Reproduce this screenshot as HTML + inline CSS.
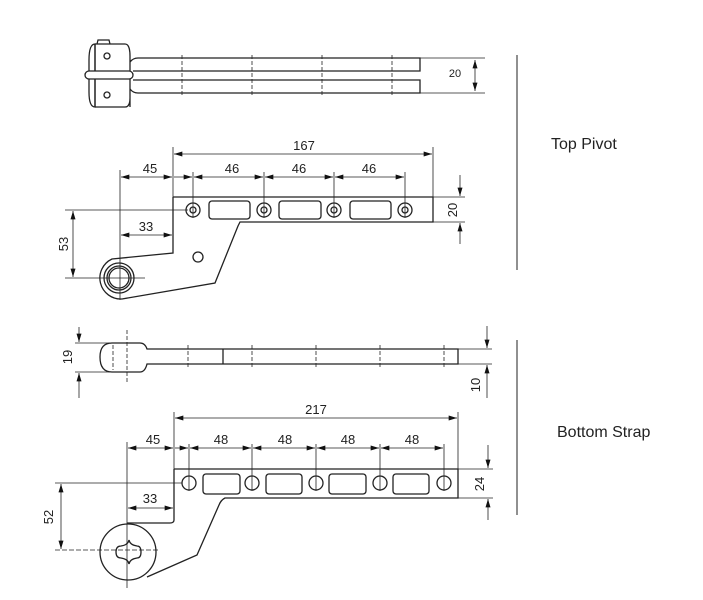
<!DOCTYPE html>
<html><head><style>
html,body{margin:0;padding:0;background:#fff;}
svg{display:block;}
text{font-family:"Liberation Sans",sans-serif;fill:#222;}
</style></head><body>
<svg width="703" height="600" viewBox="0 0 703 600" xmlns="http://www.w3.org/2000/svg">
<defs>
<marker id="a" viewBox="0 0 10 6" refX="10" refY="3" markerWidth="10" markerHeight="5" orient="auto-start-reverse" markerUnits="userSpaceOnUse"><path d="M0,0 L10,3 L0,6Z" fill="#111"/></marker>
</defs>
<g stroke="#222" stroke-width="1.3" fill="none">
<!-- TOP PIVOT top view -->
<path d="M95,44 L125,44 Q130,44 130,56 L130,107 M95,107 L125,107 Q130,107 130,98"/>
<path d="M95,44 Q89,44 89,60 L89,92 Q89,107 95,107 Z"/>
<line x1="95" y1="44" x2="95" y2="107"/>
<path d="M97,44 L98,40 L109,40 L110,44"/>
<rect x="85" y="71" width="48" height="8" rx="4" fill="#fff"/>
<circle cx="107" cy="56" r="3"/><circle cx="107" cy="95" r="3"/>
<path d="M130,62 Q133,58 138,58 L420,58 L420,71 L133,71"/>
<path d="M133,80 L420,80 L420,93 L138,93 Q133,93 130,89"/>
<g stroke-dasharray="4,2" stroke-width="0.8"><line x1="182" y1="55" x2="182" y2="96"/><line x1="252" y1="55" x2="252" y2="96"/><line x1="322" y1="55" x2="322" y2="96"/><line x1="392" y1="55" x2="392" y2="96"/></g>
<g stroke-width="0.8"><line x1="420" y1="58" x2="485" y2="58"/><line x1="420" y1="93" x2="485" y2="93"/><line x1="475" y1="60" x2="475" y2="91" marker-start="url(#a)" marker-end="url(#a)"/></g>

<!-- TOP PIVOT front -->
<path d="M173,197 L433,197 L433,222 L240,222 L238,226 L215,283 L122,299 A21,21 0 0 1 112,259 L173,253 L173,197"/>
<circle cx="119" cy="278" r="15"/><circle cx="119" cy="278" r="12"/><circle cx="119" cy="278" r="10"/>
<circle cx="198" cy="257" r="5"/>
<g><circle cx="193" cy="210" r="7"/><circle cx="193" cy="210" r="3"/>
<circle cx="264" cy="210" r="7"/><circle cx="264" cy="210" r="3"/>
<circle cx="334" cy="210" r="7"/><circle cx="334" cy="210" r="3"/>
<circle cx="405" cy="210" r="7"/><circle cx="405" cy="210" r="3"/>
<rect x="209" y="201" width="41" height="18" rx="3"/><rect x="279" y="201" width="42" height="18" rx="3"/><rect x="350" y="201" width="41" height="18" rx="3"/></g>
<g stroke-width="0.8">
<line x1="173" y1="197" x2="173" y2="147"/><line x1="433" y1="197" x2="433" y2="147"/>
<line x1="174" y1="154" x2="432" y2="154" marker-start="url(#a)" marker-end="url(#a)"/>
<line x1="120" y1="170" x2="120" y2="300"/><line x1="193" y1="172" x2="193" y2="218"/><line x1="264" y1="172" x2="264" y2="218"/><line x1="334" y1="172" x2="334" y2="218"/><line x1="405" y1="172" x2="405" y2="218"/>
<line x1="121" y1="177" x2="172" y2="177" marker-start="url(#a)" marker-end="url(#a)"/>
<line x1="174" y1="177" x2="192" y2="177" marker-end="url(#a)"/>
<line x1="194" y1="177" x2="263" y2="177" marker-start="url(#a)" marker-end="url(#a)"/>
<line x1="265" y1="177" x2="333" y2="177" marker-start="url(#a)" marker-end="url(#a)"/>
<line x1="335" y1="177" x2="404" y2="177" marker-start="url(#a)" marker-end="url(#a)"/>
<line x1="121" y1="235" x2="172" y2="235" marker-start="url(#a)" marker-end="url(#a)"/>
<line x1="65" y1="210" x2="188" y2="210"/><line x1="65" y1="278" x2="145" y2="278"/>
<line x1="73" y1="211" x2="73" y2="277" marker-start="url(#a)" marker-end="url(#a)"/>
<line x1="433" y1="197" x2="465" y2="197"/><line x1="433" y1="222" x2="465" y2="222"/>
<line x1="460" y1="175" x2="460" y2="196" marker-end="url(#a)"/><line x1="460" y1="244" x2="460" y2="223" marker-end="url(#a)"/>
</g>
<line x1="517" y1="55" x2="517" y2="270" stroke-width="1"/>

<!-- BOTTOM STRAP top view -->
<path d="M112,343 L140,343 Q145,343 147,349 L458,349 L458,364 L147,364 Q145,372 140,372 L112,372 Q100,372 100,357 Q100,343 112,343 Z"/>
<line x1="223" y1="349" x2="223" y2="364"/>
<g stroke-dasharray="4,2" stroke-width="0.8"><line x1="127" y1="330" x2="127" y2="382"/><line x1="113" y1="345" x2="113" y2="370"/><line x1="188" y1="345" x2="188" y2="368"/><line x1="252" y1="345" x2="252" y2="368"/><line x1="316" y1="345" x2="316" y2="368"/><line x1="380" y1="345" x2="380" y2="368"/><line x1="444" y1="345" x2="444" y2="368"/></g>
<g stroke-width="0.8">
<line x1="75" y1="343" x2="125" y2="343"/><line x1="75" y1="372" x2="125" y2="372"/>
<line x1="79" y1="327" x2="79" y2="342" marker-end="url(#a)"/><line x1="79" y1="398" x2="79" y2="373" marker-end="url(#a)"/>
<line x1="458" y1="349" x2="492" y2="349"/><line x1="458" y1="364" x2="492" y2="364"/>
<line x1="487" y1="326" x2="487" y2="348" marker-end="url(#a)"/><line x1="487" y1="398" x2="487" y2="365" marker-end="url(#a)"/>
</g>

<!-- BOTTOM STRAP front -->
<path d="M174,469 L458,469 L458,498 L225,498 Q221,500 219,505 L197,555 L147,577 M174,469 L174,520 Q174,523 170,523 L127,523"/>
<circle cx="128" cy="552" r="28"/>
<path d="M121,546 Q128,545 129,540 Q130,545 137,546 Q141,546 141,552 Q141,558 137,558 Q130,559 129,564 Q128,559 121,558 Q116,558 116,552 Q116,546 121,546 Z"/>
<g><circle cx="189" cy="483" r="7"/><circle cx="252" cy="483" r="7"/><circle cx="316" cy="483" r="7"/><circle cx="380" cy="483" r="7"/><circle cx="444" cy="483" r="7"/>
<rect x="203" y="474" width="37" height="20" rx="3"/><rect x="266" y="474" width="36" height="20" rx="3"/><rect x="329" y="474" width="37" height="20" rx="3"/><rect x="393" y="474" width="36" height="20" rx="3"/></g>
<g stroke-width="0.8">
<line x1="174" y1="469" x2="174" y2="412"/><line x1="458" y1="469" x2="458" y2="412"/>
<line x1="175" y1="418" x2="457" y2="418" marker-start="url(#a)" marker-end="url(#a)"/>
<line x1="127" y1="442" x2="127" y2="588"/><line x1="189" y1="444" x2="189" y2="491"/><line x1="252" y1="444" x2="252" y2="491"/><line x1="316" y1="444" x2="316" y2="491"/><line x1="380" y1="444" x2="380" y2="491"/><line x1="444" y1="444" x2="444" y2="491"/>
<line x1="128" y1="448" x2="173" y2="448" marker-start="url(#a)" marker-end="url(#a)"/>
<line x1="175" y1="448" x2="188" y2="448" marker-end="url(#a)"/>
<line x1="190" y1="448" x2="251" y2="448" marker-start="url(#a)" marker-end="url(#a)"/>
<line x1="253" y1="448" x2="315" y2="448" marker-start="url(#a)" marker-end="url(#a)"/>
<line x1="317" y1="448" x2="379" y2="448" marker-start="url(#a)" marker-end="url(#a)"/>
<line x1="381" y1="448" x2="443" y2="448" marker-start="url(#a)" marker-end="url(#a)"/>
<line x1="128" y1="508" x2="173" y2="508" marker-start="url(#a)" marker-end="url(#a)"/>
<line x1="55" y1="483" x2="182" y2="483"/><line x1="55" y1="550" x2="160" y2="550" stroke-dasharray="5,2"/>
<line x1="61" y1="484" x2="61" y2="549" marker-start="url(#a)" marker-end="url(#a)"/>
<line x1="458" y1="469" x2="493" y2="469"/><line x1="458" y1="498" x2="493" y2="498"/>
<line x1="488" y1="445" x2="488" y2="468" marker-end="url(#a)"/><line x1="488" y1="520" x2="488" y2="499" marker-end="url(#a)"/>
</g>
<line x1="517" y1="340" x2="517" y2="515" stroke-width="1"/>
</g>

<g font-size="13">
<text x="455" y="77" font-size="11" text-anchor="middle">20</text>
<text x="304" y="150" text-anchor="middle">167</text>
<text x="150" y="173" text-anchor="middle">45</text>
<text x="232" y="173" text-anchor="middle">46</text>
<text x="299" y="173" text-anchor="middle">46</text>
<text x="369" y="173" text-anchor="middle">46</text>
<text x="146" y="231" text-anchor="middle">33</text>
<text transform="translate(68,244) rotate(-90)" text-anchor="middle">53</text>
<text transform="translate(457,210) rotate(-90)" text-anchor="middle">20</text>
<text transform="translate(72,357) rotate(-90)" text-anchor="middle">19</text>
<text transform="translate(480,385) rotate(-90)" text-anchor="middle">10</text>
<text x="316" y="414" text-anchor="middle">217</text>
<text x="153" y="444" text-anchor="middle">45</text>
<text x="221" y="444" text-anchor="middle">48</text>
<text x="285" y="444" text-anchor="middle">48</text>
<text x="348" y="444" text-anchor="middle">48</text>
<text x="412" y="444" text-anchor="middle">48</text>
<text x="150" y="503" text-anchor="middle">33</text>
<text transform="translate(53,517) rotate(-90)" text-anchor="middle">52</text>
<text transform="translate(484,484) rotate(-90)" text-anchor="middle">24</text>
</g>
<text x="551" y="149" font-size="16">Top Pivot</text>
<text x="557" y="437" font-size="16">Bottom Strap</text>
</svg>
</body></html>
